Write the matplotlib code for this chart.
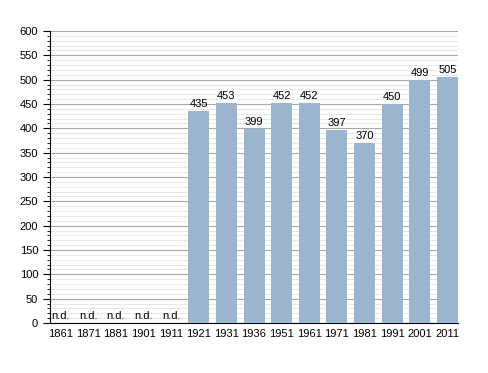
import matplotlib
matplotlib.use("Agg")
import matplotlib.pyplot as plt
from matplotlib.ticker import MultipleLocator

# census years and population (None = no data)
years = ["1861", "1871", "1881", "1901", "1911", "1921", "1931", "1936",
         "1951", "1961", "1971", "1981", "1991", "2001", "2011"]
population = [None, None, None, None, None, 435, 453, 399,
              452, 452, 397, 370, 450, 499, 505]

plt.rcParams["font.family"] = ["Liberation Sans", "DejaVu Sans"]

fig = plt.figure(figsize=(4.88, 3.73), dpi=100)
ax = fig.add_axes([0.1025, 0.134, 0.836, 0.783])

x = list(range(len(years)))
heights = [p if p is not None else 0 for p in population]
ax.bar(x, heights, width=0.76, color="#9bb4d0", zorder=3)

for xi, p in zip(x, population):
    if p is None:
        ax.text(xi, 4, "n.d.", ha="center", va="bottom", fontsize=8, zorder=4)
    else:
        ax.text(xi, p + 4, str(p), ha="center", va="bottom", fontsize=8, zorder=4)

ax.set_xlim(-0.38, len(years) - 1 + 0.38)
ax.set_ylim(0, 600)
ax.set_xticks(x)
ax.set_xticklabels(years, fontsize=8)
ax.yaxis.set_major_locator(MultipleLocator(50))
ax.yaxis.set_minor_locator(MultipleLocator(10))
ax.tick_params(axis="y", which="major", labelsize=8, length=5, width=0.8)
ax.tick_params(axis="y", which="minor", length=2.5, width=0.6)
ax.tick_params(axis="x", length=0, pad=4)

# Grid lines
ax.grid(axis="y", which="major", color="#a8a8a8", linewidth=0.8, zorder=0)
ax.grid(axis="y", which="minor", color="#e3e3e3", linewidth=0.6, zorder=0)
ax.set_axisbelow(True)

ax.spines["top"].set_visible(False)
ax.spines["right"].set_visible(False)

fig.savefig("out.png", dpi=100)
